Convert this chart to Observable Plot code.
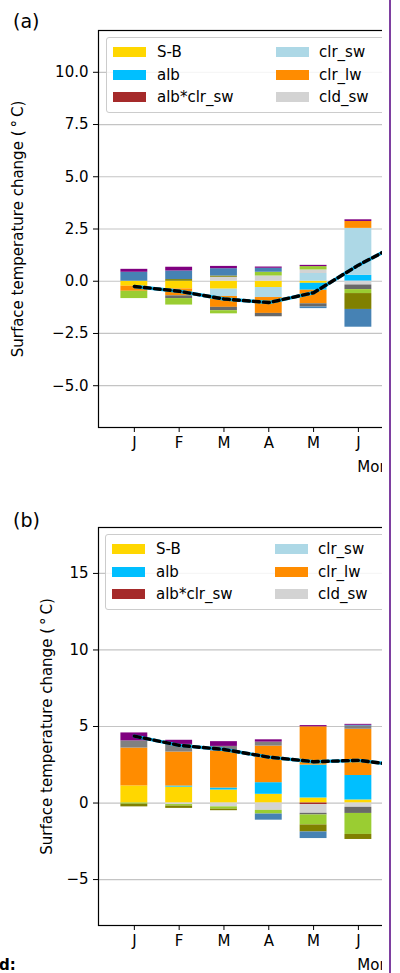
<!DOCTYPE html>
<html>
<head>
<meta charset="utf-8">
<script src="https://cdn.jsdelivr.net/npm/d3@7"></script>
<script src="https://cdn.jsdelivr.net/npm/@observablehq/plot@0.6"></script>
<style>
  html, body { margin: 0; padding: 0; background: #fff; }
  body { position: relative; width: 400px; height: 973px; overflow: hidden;
         font-family: "DejaVu Sans", sans-serif; color: #000; }
  .panel { position: absolute; left: 0; width: 382px; overflow: hidden; }
  .panel svg { max-width: none !important; display: block; }
  .tag { position: absolute; font-size: 19px; line-height: 22px; }
  .legend { position: absolute; width: 600px; height: 76px; box-sizing: border-box;
            border: 1px solid #cccccc; border-radius: 3px; background: rgba(255,255,255,0.85); }
  .legend .patch { position: absolute; width: 33px; height: 10px; }
  .legend .lab { position: absolute; font-size: 15px; line-height: 18px; white-space: nowrap; }
  .edge { position: absolute; left: 389px; top: 0; width: 2px; height: 973px; background: #7e3fa0; }
  .foot { position: absolute; left: -1px; top: 956px; font-size: 15px; font-weight: bold; line-height: 18px; }
</style>
</head>
<body>
<div id="pa" class="panel" style="top:0px;height:490px"></div>
<div id="pb" class="panel" style="top:490px;height:483px"></div>
<div class="edge"></div>
<div class="foot">d:</div>
<script>
// Energy-balance components of the monthly surface temperature change
const seriesNames = ["S-B", "alb", "alb*clr_sw", "clr_sw", "clr_lw", "cld_sw",
                     "cld_lw", "alb*cld_sw", "q_lw", "lh", "sh", "res"];
const seriesColors = ["gold", "deepskyblue", "brown", "lightblue", "darkorange", "lightgray",
                      "gray", "dimgray", "yellowgreen", "olive", "steelblue", "purple"];
const monthLetters = ["J", "F", "M", "A", "M", "J"];
const months = [1, 2, 3, 4, 5, 6];

// Panel (a): contribution of each component, Jan..Jun (°C), one row per series
const valuesA = [
  [-0.24, -0.37, -0.38, -0.30, -0.10, 0.00],
  [ 0.00,  0.00,  0.00,  0.00, -0.33, 0.28],
  [ 0.00,  0.00,  0.00,  0.00,  0.00, 0.00],
  [ 0.00,  0.00, -0.35, -0.48,  0.37, 2.25],
  [-0.24, -0.33, -0.52, -0.76, -0.65, 0.33],
  [ 0.00,  0.00,  0.19,  0.25,  0.17, -0.18],
  [ 0.00,  0.00,  0.00,  0.00,  0.00, 0.00],
  [ 0.00, -0.13, -0.16, -0.16, -0.15, -0.22],
  [-0.35, -0.31, -0.15,  0.18,  0.16, -0.19],
  [ 0.00,  0.08,  0.06,  0.00,  0.00, -0.76],
  [ 0.43,  0.41,  0.35,  0.19, -0.08, -0.85],
  [ 0.14,  0.18,  0.11,  0.06,  0.06, 0.08]
];
// Panel (a): total change, Jan..Jul
const totalA = [-0.25, -0.48, -0.85, -1.02, -0.55, 0.77, 1.90];

// Panel (b)
const valuesB = [
  [ 1.12,  1.04,  0.85,  0.57,  0.33,  0.20],
  [ 0.00,  0.07,  0.13,  0.76,  2.15,  1.60],
  [ 0.00,  0.00,  0.00,  0.00, -0.10,  0.00],
  [ 0.00,  0.00,  0.00,  0.00,  0.00,  0.00],
  [ 2.47,  2.22,  2.41,  2.39,  2.50,  3.02],
  [ 0.00, -0.10, -0.25, -0.48, -0.57, -0.28],
  [ 0.47,  0.50,  0.31,  0.26,  0.00,  0.20],
  [ 0.00,  0.00,  0.00,  0.00, -0.11, -0.40],
  [-0.08, -0.10, -0.15, -0.24, -0.65, -1.37],
  [-0.17, -0.15, -0.10,  0.00, -0.46, -0.33],
  [ 0.00,  0.00,  0.00, -0.40, -0.43,  0.06],
  [ 0.52,  0.27,  0.31,  0.15,  0.08,  0.06]
];
const totalB = [4.37, 3.77, 3.50, 3.00, 2.70, 2.79, 2.43];

const ticksA = [-5, -2.5, 0, 2.5, 5, 7.5, 10];
const ticksB = [-5, 0, 5, 10, 15];

const yLabel = "Surface temperature change (\u2009°\u2009C)";
const barHalf = 0.3;

function toRows(values) {
  const rows = [];
  values.forEach((vals, i) => vals.forEach((v, j) => {
    if (v !== 0) rows.push({series: seriesNames[i], month: j + 1, value: v});
  }));
  return rows;
}

function drawPanel(el, values, totals, cfg) {
  const rows = toRows(values);
  const line = totals.map((v, i) => ({month: i + 1, value: v}));
  const chart = Plot.plot({
    width: 700,
    height: cfg.height,
    marginTop: cfg.marginTop,
    marginBottom: cfg.height - cfg.marginTop - cfg.frameH,
    marginLeft: 98,
    marginRight: 37.4,
    style: {fontFamily: "DejaVu Sans, sans-serif", fontSize: "15px", color: "#000",
            background: "#fff", maxWidth: "none"},
    x: {type: "linear", domain: [0.2, 12.8]},
    y: {type: "linear", domain: cfg.yDomain},
    color: {domain: seriesNames, range: seriesColors},
    marks: [
      Plot.gridY(cfg.ticks, {stroke: "#c4c4c4", strokeOpacity: 1, strokeWidth: 1.2}),
      Plot.rectY(rows, Plot.stackY({
        x: "month",
        x1: d => d.month - barHalf,
        x2: d => d.month + barHalf,
        y: "value",
        fill: "series"
      })),
      Plot.lineY(line, {x: "month", y: "value", stroke: "deepskyblue", strokeWidth: 3.4}),
      Plot.lineY(line, {x: "month", y: "value", stroke: "black", strokeWidth: 3.4, strokeDasharray: "6,4"}),
      Plot.frame({stroke: "black", strokeWidth: 1.2}),
      Plot.axisY(cfg.ticks, {tickSize: 5, tickPadding: 5, tickFormat: cfg.fmt, label: null}),
      Plot.axisX(months, {tickSize: 5, tickPadding: 5, tickFormat: m => monthLetters[m - 1], label: null}),
      Plot.text([yLabel], {frameAnchor: "left", dx: cfg.yLabelX - 98, rotate: -90,
                           textAnchor: "middle", lineAnchor: "middle", text: d => d}),
      Plot.text(["Month"], {frameAnchor: "bottom", dy: 40, textAnchor: "middle",
                            lineAnchor: "middle", text: d => d})
    ]
  });
  el.appendChild(chart);

  const tag = document.createElement("div");
  tag.className = "tag";
  tag.style.left = "13px";
  tag.style.top = cfg.tagTop + "px";
  tag.textContent = cfg.tag;
  el.appendChild(tag);

  const lg = document.createElement("div");
  lg.className = "legend";
  lg.style.left = cfg.legendLeft + "px";
  lg.style.top = (cfg.marginTop + 7) + "px";
  seriesNames.slice(0, 6).forEach((name, i) => {
    const col = Math.floor(i / 3), row = i % 3;
    const cy = 15 + row * 22.5;
    const p = document.createElement("div");
    p.className = "patch";
    p.style.left = (6 + col * 163) + "px";
    p.style.top = (cy - 5 - 1) + "px";
    p.style.background = seriesColors[i];
    lg.appendChild(p);
    const t = document.createElement("div");
    t.className = "lab";
    t.style.left = (50 + col * 162) + "px";
    t.style.top = (cy - 9 - 1) + "px";
    t.textContent = name;
    lg.appendChild(t);
  });
  el.appendChild(lg);
}

drawPanel(document.getElementById("pa"), valuesA, totalA, {
  height: 490, marginTop: 30, frameH: 397, yDomain: [-7, 12], ticks: ticksA,
  fmt: d3.format(".1f"), yLabelX: 18, tag: "(a)", tagTop: 10, legendLeft: 106
});
drawPanel(document.getElementById("pb"), valuesB, totalB, {
  height: 483, marginTop: 37, frameH: 398, yDomain: [-8, 18], ticks: ticksB,
  fmt: d3.format("d"), yLabelX: 47, tag: "(b)", tagTop: 19, legendLeft: 105
});
</script>
</body>
</html>
